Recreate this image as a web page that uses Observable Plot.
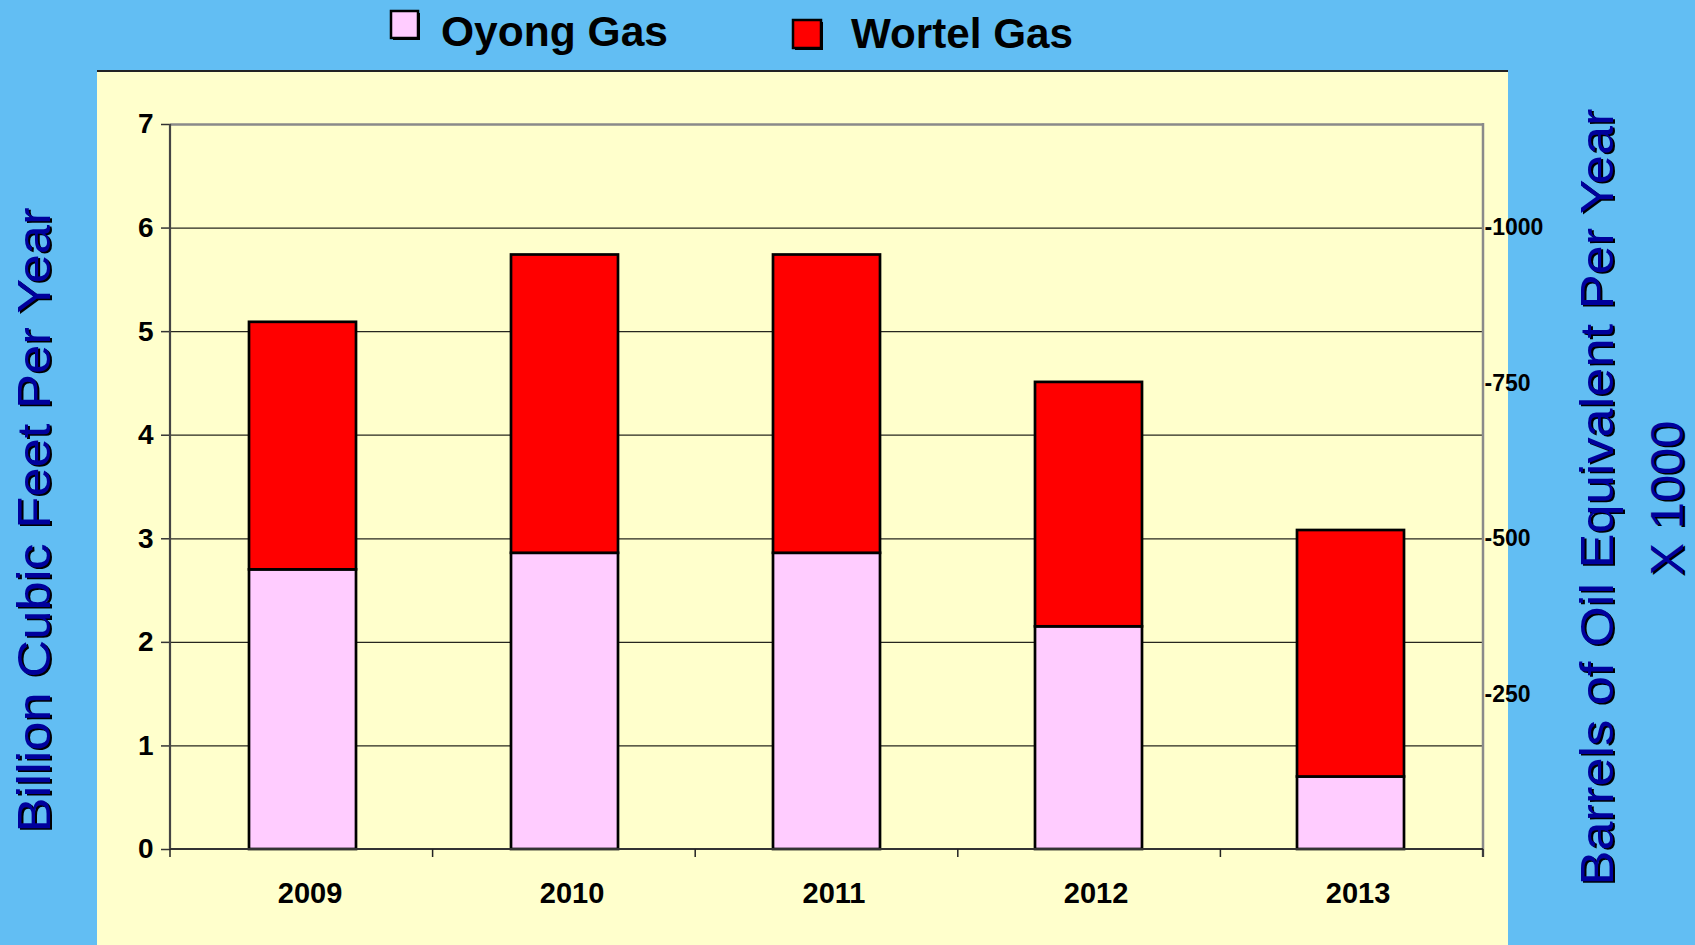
<!DOCTYPE html>
<html><head><meta charset="utf-8">
<script src="https://cdn.jsdelivr.net/npm/d3@7"></script>
<script src="https://cdn.jsdelivr.net/npm/@observablehq/plot@0.6"></script>
<style>html,body{margin:0;padding:0;background:#62BEF3;overflow:hidden}</style>
</head><body><div id="chart"></div>
<script>
// ---- data ----
const years = ["2009", "2010", "2011", "2012", "2013"];
const oyongGas = [2.70, 2.86, 2.86, 2.15, 0.70];
const wortelGas = [2.39, 2.88, 2.88, 2.36, 2.38];
const seriesNames = ["Oyong Gas", "Wortel Gas"];
const seriesColors = ["#FFCCFF", "#FF0000"];
const yTicks = [0, 1, 2, 3, 4, 5, 6, 7];
const boeTicks = [1000, 750, 500, 250];          // right axis, barrels oil eq. x1000
const boePerBcf = 1 / 0.006;                     // conversion used by right axis
const leftTitle = "Billion Cubic Feet Per Year";
const rightTitle1 = "Barrels of Oil Equivalent Per Year";
const rightTitle2 = "X 1000";

const data = [];
years.forEach((yr, i) => {
  data.push({year: yr, series: seriesNames[0], value: oyongGas[i]});
  data.push({year: yr, series: seriesNames[1], value: wortelGas[i]});
});

// ---- layout ----
const W = 1695, H = 945, mL = 170, mR = 212, mT = 124, mB = 96;
const FONT = "'Liberation Sans', Arial, sans-serif";

const chart = Plot.plot({
  width: W, height: H,
  marginLeft: mL, marginRight: mR, marginTop: mT, marginBottom: mB,
  style: {background: "#62BEF3", fontFamily: FONT, color: "#000", overflow: "visible"},
  x: {domain: years, paddingInner: 0.593, paddingOuter: 0.2965, label: null},
  y: {domain: [0, 7], label: null},
  color: {domain: seriesNames, range: seriesColors},
  marks: [
    Plot.ruleY(yTicks.filter(d => d > 0 && d < 7), {stroke: "#000", strokeWidth: 1.3, strokeOpacity: 0.85}),
    Plot.ruleY([7], {stroke: "#8a8a8a", strokeWidth: 2.5}),
    Plot.barY(data, {x: "year", y: "value", fill: "series", stroke: "#000", strokeWidth: 2.7}),
    Plot.axisY({ticks: yTicks, tickFormat: d3.format("d"), tickSize: 9, tickPadding: 8, fontSize: 28, fontWeight: "bold", stroke: "#333", strokeWidth: 1.5, label: null}),
    Plot.axisX({tickSize: 0, tickPadding: 33, fontSize: 29, fontWeight: "bold", dx: 7, label: null}),
    Plot.text(boeTicks, {y: d => d / boePerBcf, text: d => "-" + d, frameAnchor: "right", textAnchor: "start", dx: 1, fontSize: 23, fontWeight: "bold", fill: "#000"})
  ]
});
document.getElementById("chart").appendChild(chart);

// ---- decorations ----
const svgSel = d3.select(chart);
const x0 = mL, x1 = W - mR, yBot = H - mB, yTop = mT;
const step = (x1 - x0) / years.length;

// yellow panel behind everything
const deco = svgSel.insert("g", ":first-child");
deco.append("rect").attr("x", 97).attr("y", 71).attr("width", 1411).attr("height", H - 71).attr("fill", "#FFFFCC");
deco.append("line").attr("x1", 97).attr("x2", 1508).attr("y1", 71).attr("y2", 71).attr("stroke", "#222").attr("stroke-width", 2);

const over = svgSel.append("g").attr("text-anchor", "start").attr("font-weight", "normal");
// left axis line
over.append("line").attr("x1", x0).attr("x2", x0).attr("y1", yTop).attr("y2", yBot).attr("stroke", "#444").attr("stroke-width", 2.2);
// right axis line
over.append("line").attr("x1", x1).attr("x2", x1).attr("y1", yTop - 1).attr("y2", yBot + 8).attr("stroke", "#8a8a8a").attr("stroke-width", 2.5);
// bottom axis line
over.append("line").attr("x1", x0).attr("x2", x1).attr("y1", yBot).attr("y2", yBot).attr("stroke", "#333").attr("stroke-width", 2);
// category boundary ticks
for (let i = 0; i <= years.length; i++) {
  const xx = x0 + i * step;
  over.append("line").attr("x1", xx).attr("x2", xx).attr("y1", yBot).attr("y2", yBot + 8).attr("stroke", "#222").attr("stroke-width", 1.5);
}

// axis titles with shadow
function vtitle(text, bx, cy, len) {
  [[1.5, 1.5, "#000"], [0, 0, "#00009C"]].forEach(([dx, dy, col]) => {
    over.append("text")
      .attr("transform", `translate(${bx + dx},${cy + dy}) rotate(-90)`)
      .attr("text-anchor", "middle")
      .attr("font-family", FONT).attr("font-size", 46).attr("font-weight", "normal")
      .attr("textLength", len).attr("lengthAdjust", "spacingAndGlyphs")
      .attr("fill", col).text(text);
  });
}
vtitle(leftTitle, 50, 520, 625);
vtitle(rightTitle1, 1613, 497, 777);
vtitle(rightTitle2, 1683, 498, 155);

// legend
const legendItems = [
  {name: seriesNames[0], color: seriesColors[0], sx: 391, sy: 11, sw: 27, sh: 27, tx: 441, ty: 46, len: 227},
  {name: seriesNames[1], color: seriesColors[1], sx: 793, sy: 20, sw: 28, sh: 28, tx: 851, ty: 48, len: 222}
];
legendItems.forEach(l => {
  over.append("rect").attr("x", l.sx + 2).attr("y", l.sy + 2).attr("width", l.sw).attr("height", l.sh).attr("fill", "#000");
  over.append("rect").attr("x", l.sx).attr("y", l.sy).attr("width", l.sw).attr("height", l.sh).attr("fill", l.color).attr("stroke", "#000").attr("stroke-width", 2.5);
  over.append("text").attr("x", l.tx).attr("y", l.ty).attr("text-anchor", "start").attr("font-family", FONT).attr("font-weight", "bold").attr("font-size", 42)
    .attr("textLength", l.len).attr("lengthAdjust", "spacingAndGlyphs").attr("fill", "#000").text(l.name);
});
</script>
</body></html>
